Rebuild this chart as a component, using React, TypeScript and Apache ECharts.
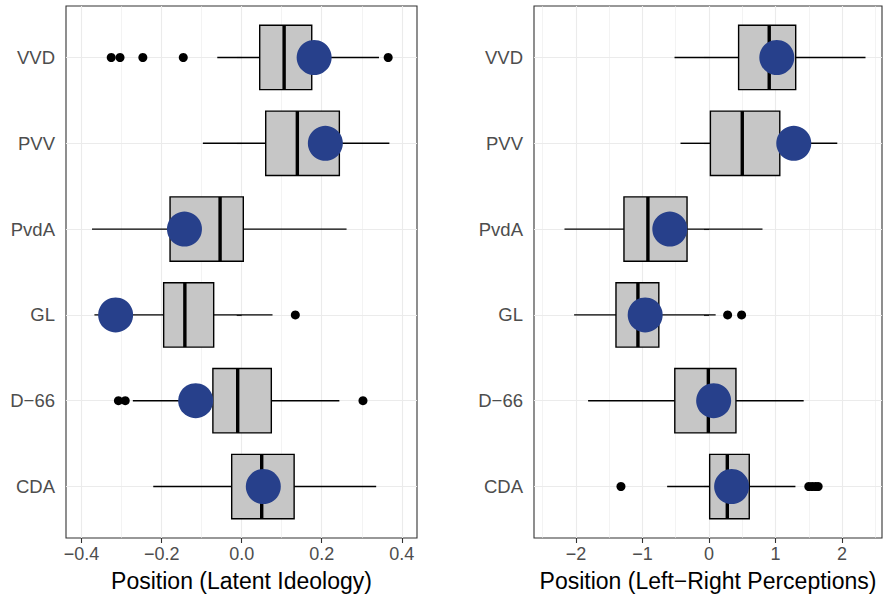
import React, { useEffect, useRef } from "react";
import * as echarts from "echarts";

// Parties, bottom to top (y = 1..6)
const parties = ["CDA", "D\u221266", "GL", "PvdA", "PVV", "VVD"];

// Left panel: latent ideology
const ideoLow = [-0.221, -0.272, -0.368, -0.374, -0.097, -0.061];
const ideoQ1 = [-0.025, -0.072, -0.195, -0.179, 0.06, 0.045];
const ideoMed = [0.05, -0.01, -0.142, -0.054, 0.139, 0.106];
const ideoQ3 = [0.131, 0.074, -0.07, 0.004, 0.244, 0.175];
const ideoHigh = [0.336, 0.244, 0.077, 0.262, 0.369, 0.343];
const ideoMean = [0.054, -0.115, -0.315, -0.143, 0.209, 0.181];
// [party index, value]
const ideoOutliers: [number, number][] = [
  [5, -0.326], [5, -0.304], [5, -0.247], [5, -0.146], [5, 0.366],
  [2, 0.134],
  [1, -0.308], [1, -0.291], [1, 0.303],
];
const ideoTicks = [-0.4, -0.2, 0, 0.2, 0.4];
const ideoMinor = [-0.3, -0.1, 0.1, 0.3];

// Right panel: left-right perceptions
const lrLow = [-0.629, -1.817, -2.027, -2.172, -0.428, -0.518];
const lrQ1 = [0.01, -0.514, -1.398, -1.278, 0.021, 0.445];
const lrMed = [0.275, -0.01, -1.068, -0.918, 0.5, 0.905];
const lrQ3 = [0.605, 0.405, -0.754, -0.33, 1.064, 1.303];
const lrHigh = [1.299, 1.423, 0.1, 0.804, 1.928, 2.352];
const lrMean = [0.34, 0.07, -0.959, -0.589, 1.274, 1.019];
const lrOutliers: [number, number][] = [
  [0, -1.323], [0, 1.5], [0, 1.55], [0, 1.6], [0, 1.64],
  [2, 0.28], [2, 0.49],
];
const lrTicks = [-2, -1, 0, 1, 2];
const lrMinor = [-2.5, -1.5, -0.5, 0.5, 1.5, 2.5];

const yPos = [1, 2, 3, 4, 5, 6];

const FONT = "'Liberation Sans', Arial, Helvetica, sans-serif";
const GRID_LINE = "#EBEBEB";

function fmtMinus(v: number, digits: number) {
  const s = Math.abs(v).toFixed(digits);
  return v < -1e-9 ? "\u2212" + s : s;
}

function boxRender(params: any, api: any) {
  const y = api.value(0);
  const lo = api.coord([api.value(1), y]);
  const q1 = api.coord([api.value(2), y]);
  const md = api.coord([api.value(3), y]);
  const q3 = api.coord([api.value(4), y]);
  const hi = api.coord([api.value(5), y]);
  const h = api.size([0, 0.75])[1];
  const lw = 1.4;
  return {
    type: "group",
    children: [
      { type: "line", shape: { x1: lo[0], y1: lo[1], x2: q1[0], y2: q1[1] }, style: { stroke: "#000", lineWidth: lw } },
      { type: "line", shape: { x1: q3[0], y1: q3[1], x2: hi[0], y2: hi[1] }, style: { stroke: "#000", lineWidth: lw } },
      {
        type: "rect",
        shape: { x: q1[0], y: q1[1] - h / 2, width: q3[0] - q1[0], height: h },
        style: { fill: "#C6C6C6", stroke: "#000", lineWidth: lw },
      },
      { type: "line", shape: { x1: md[0], y1: md[1] - h / 2, x2: md[0], y2: md[1] + h / 2 }, style: { stroke: "#000", lineWidth: 3.4 } },
    ],
  };
}

function yAxis(gridIndex: number) {
  return {
    type: "value",
    gridIndex,
    min: 0.4,
    max: 6.6,
    axisLine: { show: false },
    axisTick: { show: true, customValues: yPos, length: 5, lineStyle: { color: "#333333", width: 1.1 } },
    axisLabel: {
      customValues: yPos,
      formatter: (v: number) => parties[Math.round(v) - 1] ?? "",
      color: "#4D4D4D",
      fontSize: 18.5,
      fontFamily: FONT,
      margin: 11,
    },
    splitLine: { show: true, lineStyle: { color: GRID_LINE, width: 1.1 } },
  };
}

function xAxisMain(gridIndex: number, min: number, max: number, ticks: number[], digits: number, name: string) {
  return {
    type: "value",
    gridIndex,
    min,
    max,
    position: "bottom",
    axisLine: { show: false },
    axisTick: { show: true, customValues: ticks, length: 5, lineStyle: { color: "#333333", width: 1.1 } },
    axisLabel: {
      customValues: ticks,
      formatter: (v: number) => fmtMinus(v, digits),
      color: "#4D4D4D",
      fontSize: 18,
      fontFamily: FONT,
      margin: 7,
    },
    splitLine: { show: true, lineStyle: { color: GRID_LINE, width: 1.1 } },
    name,
    nameLocation: "middle",
    nameGap: 31,
    nameTextStyle: { fontSize: 23, color: "#000", fontFamily: FONT },
  };
}

function xAxisMinor(gridIndex: number, min: number, max: number, ticks: number[]) {
  return {
    type: "value",
    gridIndex,
    min,
    max,
    position: "top",
    axisLine: { show: false },
    axisTick: { show: false, customValues: ticks },
    axisLabel: { show: false, customValues: ticks },
    splitLine: { show: true, lineStyle: { color: GRID_LINE, width: 0.6 } },
  };
}

export default function App() {
  const ref = useRef<HTMLDivElement>(null);
  useEffect(() => {
    document.body.style.margin = "0";
    if (!ref.current) return;
    const chart = echarts.init(ref.current, undefined, { renderer: "svg" });
    const IDEO_MIN = -0.439, IDEO_MAX = 0.438;
    const LR_MIN = -2.63, LR_MAX = 2.6;
    chart.setOption({
      animation: false,
      backgroundColor: "#fff",
      textStyle: { fontFamily: FONT },
      grid: [
        { left: 66, top: 6, width: 351, height: 532, show: true, borderColor: "#333333", borderWidth: 1.1, backgroundColor: "#fff", containLabel: false },
        { left: 534, top: 6, width: 348, height: 532, show: true, borderColor: "#333333", borderWidth: 1.1, backgroundColor: "#fff", containLabel: false },
      ],
      xAxis: [
        xAxisMain(0, IDEO_MIN, IDEO_MAX, ideoTicks, 1, "Position (Latent Ideology)"),
        xAxisMinor(0, IDEO_MIN, IDEO_MAX, ideoMinor),
        xAxisMain(1, LR_MIN, LR_MAX, lrTicks, 0, "Position (Left\u2212Right Perceptions)"),
        xAxisMinor(1, LR_MIN, LR_MAX, lrMinor),
      ],
      yAxis: [yAxis(0), yAxis(1)],
      series: [
        {
          type: "custom",
          xAxisIndex: 0,
          yAxisIndex: 0,
          renderItem: boxRender,
          encode: { x: [1, 2, 3, 4, 5], y: 0 },
          data: parties.map((_, i) => [yPos[i], ideoLow[i], ideoQ1[i], ideoMed[i], ideoQ3[i], ideoHigh[i]]),
          z: 2,
        },
        {
          type: "scatter",
          xAxisIndex: 0,
          yAxisIndex: 0,
          symbolSize: 9,
          itemStyle: { color: "#000", opacity: 1 },
          data: ideoOutliers.map(([p, v]) => [v, yPos[p]]),
          z: 3,
        },
        {
          type: "scatter",
          xAxisIndex: 0,
          yAxisIndex: 0,
          symbolSize: 35,
          itemStyle: { color: "#27408B", opacity: 1 },
          data: ideoMean.map((v, i) => [v, yPos[i]]),
          z: 4,
        },
        {
          type: "custom",
          xAxisIndex: 2,
          yAxisIndex: 1,
          renderItem: boxRender,
          encode: { x: [1, 2, 3, 4, 5], y: 0 },
          data: parties.map((_, i) => [yPos[i], lrLow[i], lrQ1[i], lrMed[i], lrQ3[i], lrHigh[i]]),
          z: 2,
        },
        {
          type: "scatter",
          xAxisIndex: 2,
          yAxisIndex: 1,
          symbolSize: 9,
          itemStyle: { color: "#000", opacity: 1 },
          data: lrOutliers.map(([p, v]) => [v, yPos[p]]),
          z: 3,
        },
        {
          type: "scatter",
          xAxisIndex: 2,
          yAxisIndex: 1,
          symbolSize: 35,
          itemStyle: { color: "#27408B", opacity: 1 },
          data: lrMean.map((v, i) => [v, yPos[i]]),
          z: 4,
        },
      ],
    });
    return () => chart.dispose();
  }, []);
  return <div ref={ref} style={{ width: 883, height: 600 }} />;
}
